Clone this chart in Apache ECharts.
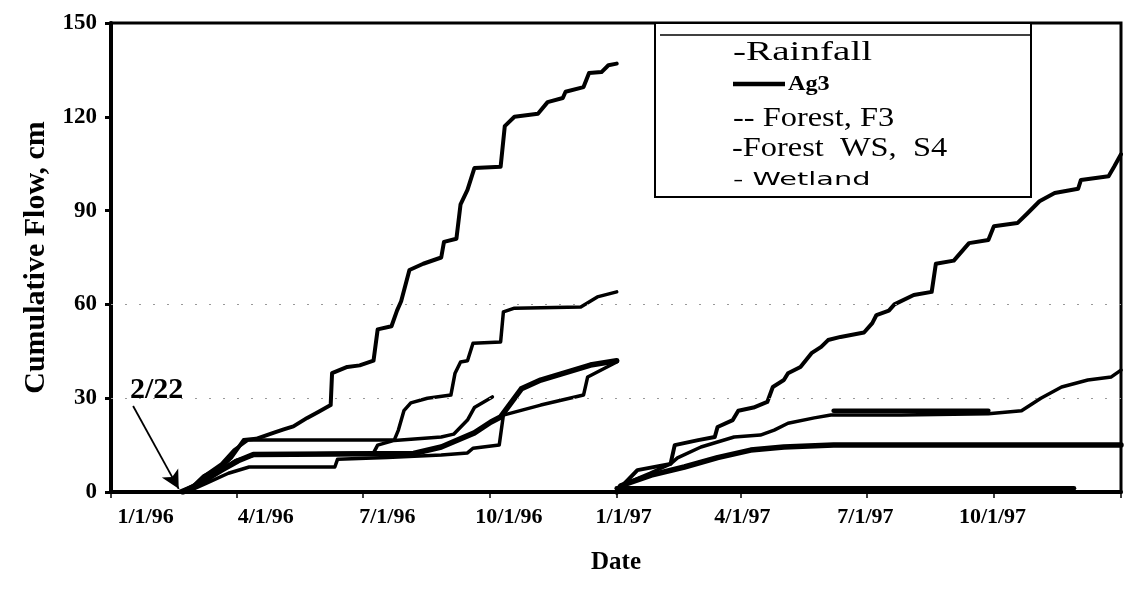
<!DOCTYPE html>
<html>
<head>
<meta charset="utf-8">
<script src="https://cdn.jsdelivr.net/npm/echarts@6/dist/echarts.min.js"></script>
<style>
html,body{margin:0;padding:0;background:#fff;}
#chart{width:1126px;height:590px;}
</style>
</head>
<body>
<div id="chart"></div>
<script>
// x values: days since 1/1/96 ; y values: cumulative flow, cm
const xTickDays = [0, 91, 182, 274, 366, 456, 547, 639, 731];
const xTickLabels = ['1/1/96', '4/1/96', '7/1/96', '10/1/96', '1/1/97', '4/1/97', '7/1/97', '10/1/97'];
const yTicks = [0, 30, 60, 90, 120, 150];

const rainfall1996 = [[49,0],[60,2],[67,5],[80,8],[87,11],[96,16.6],[105,17],[118,19],[125,20],[132,21],[142,23.7],[150,25.6],[159,27.8],[160,38],[171,40],[180,40.5],[190,42],[193,52],[203,53],[207,58],[210,61],[216,71],[226,73],[239,75],[241,80],[250,81],[253,92],[258,96.6],[263,103.6],[282,104],[285,117],[292,120],[309,121],[316,124.7],[327,126],[329,128],[342,129.5],[346,134],[355,134.3],[360,136.5],[366,137]];
const rainfall1997 = [[366,0],[370,2],[374,3.8],[381,7],[405,9],[408,15],[425,16.6],[437,17.6],[439,20.8],[450,23],[454,26],[465,27],[475,28.8],[479,33.6],[487,35.8],[490,38],[499,40],[507,44.4],[514,46.4],[519,48.6],[528,49.6],[545,51],[551,54],[554,56.6],[563,58],[567,60],[581,63],[594,64],[597,73],[610,74],[621,79.6],[635,80.6],[639,85],[656,86],[663,89],[672,93],[683,95.6],[700,97],[702,99.8],[722,101],[726,104],[731,108]];

const ag31996 = [[52,0],[65,3],[80,7],[92,10],[103,12],[219,12.3],[239,14.4],[263,18.9],[275,22.4],[282,24],[297,33],[311,35.8],[335,39],[347,40.6],[366,42]];
const ag31997 = [[366,0],[369,2],[391,5.4],[415,8],[439,11],[463,13.4],[487,14.4],[523,15],[731,15]];

const forestF31996 = [[52,0],[60,2],[67,5],[80,9],[89,13.4],[99,16.6],[205,16.6],[208,19.8],[212,26],[217,28.5],[229,30],[246,31],[249,38],[253,41.6],[258,42],[262,47.6],[282,48],[284,57.6],[292,58.8],[340,59.2],[352,62.4],[366,64]];
const forestF31997 = [[366,0],[374,3],[390,6],[405,9],[410,10.9],[427,14.4],[451,17.6],[470,18.2],[480,19.8],[490,22],[509,23.7],[521,24.6],[572,24.6],[635,25],[659,26],[673,30],[688,33.6],[707,35.8],[724,36.8],[731,39]];

const forestWS1996 = [[52,0],[70,4],[90,10],[105,12],[190,12.5],[193,15],[205,16.5],[239,17.6],[248,18.5],[258,23],[263,27],[276,30.4]];
const forestWS1997 = [[523,26],[635,26]];

const wetland1996 = [[55,0],[70,3],[85,6],[100,8],[162,8],[164,10.5],[200,11],[239,11.8],[258,12.5],[262,14],[281,15],[284,24.6],[311,27.8],[342,31],[345,36.8],[366,41.6]];
const wetland1997 = [[366,1.2],[697,1.2]];

const SERIF = 'Liberation Serif';
const chart = echarts.init(document.getElementById('chart'), null, {renderer: 'canvas'});

function line(name, data, width) {
  return {
    name: name, type: 'line', data: data, showSymbol: false, symbol: 'none',
    lineStyle: {color: '#000', width: width, cap: 'round', join: 'round'}, itemStyle: {color: '#000'},
    silent: true, animation: false, z: 3
  };
}

const labelShift = [25, 21, 18, 14, 5, 1, -1, -1];
const labelDays = xTickLabels.map((_, i) => xTickDays[i] + labelShift[i]);

const series = [
  Object.assign(line('Rainfall', rainfall1996, 4), {
    markLine: {
      silent: true, symbol: 'none', animation: false,
      label: {show: false},
      lineStyle: {color: '#999', type: [2, 12], width: 1.2},
      data: [{yAxis: 30}, {yAxis: 60}]
    },
    markPoint: {
      silent: true, animation: false, symbol: 'circle', symbolSize: 0,
      label: {show: true, formatter: '2/22', color: '#000', fontFamily: SERIF, fontWeight: 'bold', fontSize: 30, position: 'inside'},
      data: [{coord: [33, 32.5]}]
    }
  }),
  Object.assign(line('Rainfall', rainfall1997, 4), {
    markLine: {
      silent: true, animation: false, symbol: ['none', 'arrow'], symbolSize: [14, 18],
      label: {show: false},
      lineStyle: {color: '#000', type: 'solid', width: 1.8},
      data: [[{coord: [16, 27.5]}, {coord: [49, 1]}]]
    }
  }),
  line('Ag3', ag31996, 5.5),
  line('Ag3', ag31997, 5.5),
  line('Forest, F3', forestF31996, 3.5),
  line('Forest, F3', forestF31997, 3.5),
  line('Forest WS, S4', forestWS1996, 3.5),
  line('Forest WS, S4', forestWS1997, 4.5),
  line('Wetland', wetland1996, 3.5),
  line('Wetland', wetland1997, 4.5)
];

const legX = 733;
const option = {
  animation: false,
  backgroundColor: '#fff',
  grid: {left: 111, right: 5, top: 23, bottom: 98, show: true, borderColor: '#000', borderWidth: 3, backgroundColor: 'transparent'},
  xAxis: {
    type: 'value', min: 0, max: 731,
    name: 'Date', nameLocation: 'middle', nameGap: 58,
    nameTextStyle: {fontFamily: SERIF, fontWeight: 'bold', fontSize: 25, color: '#000'},
    axisLine: {show: true, lineStyle: {color: '#000', width: 4}},
    axisTick: {show: true, customValues: xTickDays, length: 6, lineStyle: {color: '#000', width: 1.5}},
    axisLabel: {
      show: true, customValues: labelDays, margin: 14,
      formatter: function (v) { const i = labelDays.indexOf(v); return i >= 0 ? xTickLabels[i] : ''; },
      fontFamily: SERIF, fontWeight: 'bold', fontSize: 22, color: '#000'
    },
    splitLine: {show: false}
  },
  yAxis: {
    type: 'value', min: 0, max: 150, interval: 30,
    name: 'Cumulative Flow, cm', nameLocation: 'middle', nameGap: 56, nameRotate: 90,
    nameTextStyle: {fontFamily: SERIF, fontWeight: 'bold', fontSize: 30, color: '#000'},
    axisLine: {show: true, lineStyle: {color: '#000', width: 4}},
    axisTick: {show: true, length: 6, lineStyle: {color: '#000', width: 3}},
    axisLabel: {
      customValues: yTicks, margin: 14,
      fontFamily: SERIF, fontWeight: 'bold', fontSize: 23, color: '#000'
    },
    splitLine: {show: false}
  },
  graphic: [
    {type: 'rect', shape: {x: 655, y: 23, width: 376, height: 174}, style: {fill: '#fff', stroke: '#000', lineWidth: 2}, z: 10},
    {type: 'line', shape: {x1: 660, y1: 35, x2: 1031, y2: 35}, style: {stroke: '#000', lineWidth: 1.5}, z: 11},
    {type: 'text', x: legX, y: 53, scaleX: 1.45, style: {text: '-Rainfall', font: '27px "Liberation Serif"', fill: '#000', verticalAlign: 'middle'}, z: 11},
    {type: 'line', shape: {x1: legX, y1: 84, x2: 785, y2: 84}, style: {stroke: '#000', lineWidth: 4.5}, z: 11},
    {type: 'text', x: 788, y: 84, scaleX: 1.1, style: {text: 'Ag3', font: 'bold 22px "Liberation Serif"', fill: '#000', verticalAlign: 'middle'}, z: 11},
    {type: 'text', x: legX, y: 119, scaleX: 1.2, style: {text: '-- Forest, F3', font: '27px "Liberation Serif"', fill: '#000', verticalAlign: 'middle'}, z: 11},
    {type: 'text', x: legX - 1, y: 149, scaleX: 1.2, style: {text: '-Forest  WS,  S4', font: '27px "Liberation Serif"', fill: '#000', verticalAlign: 'middle'}, z: 11},
    {type: 'text', x: legX, y: 180, scaleX: 1.6, style: {text: '- Wetland', font: '18px "DejaVu Sans"', fill: '#000', verticalAlign: 'middle'}, z: 11}
  ],
  series: series
};
chart.setOption(option);
</script>
</body>
</html>
